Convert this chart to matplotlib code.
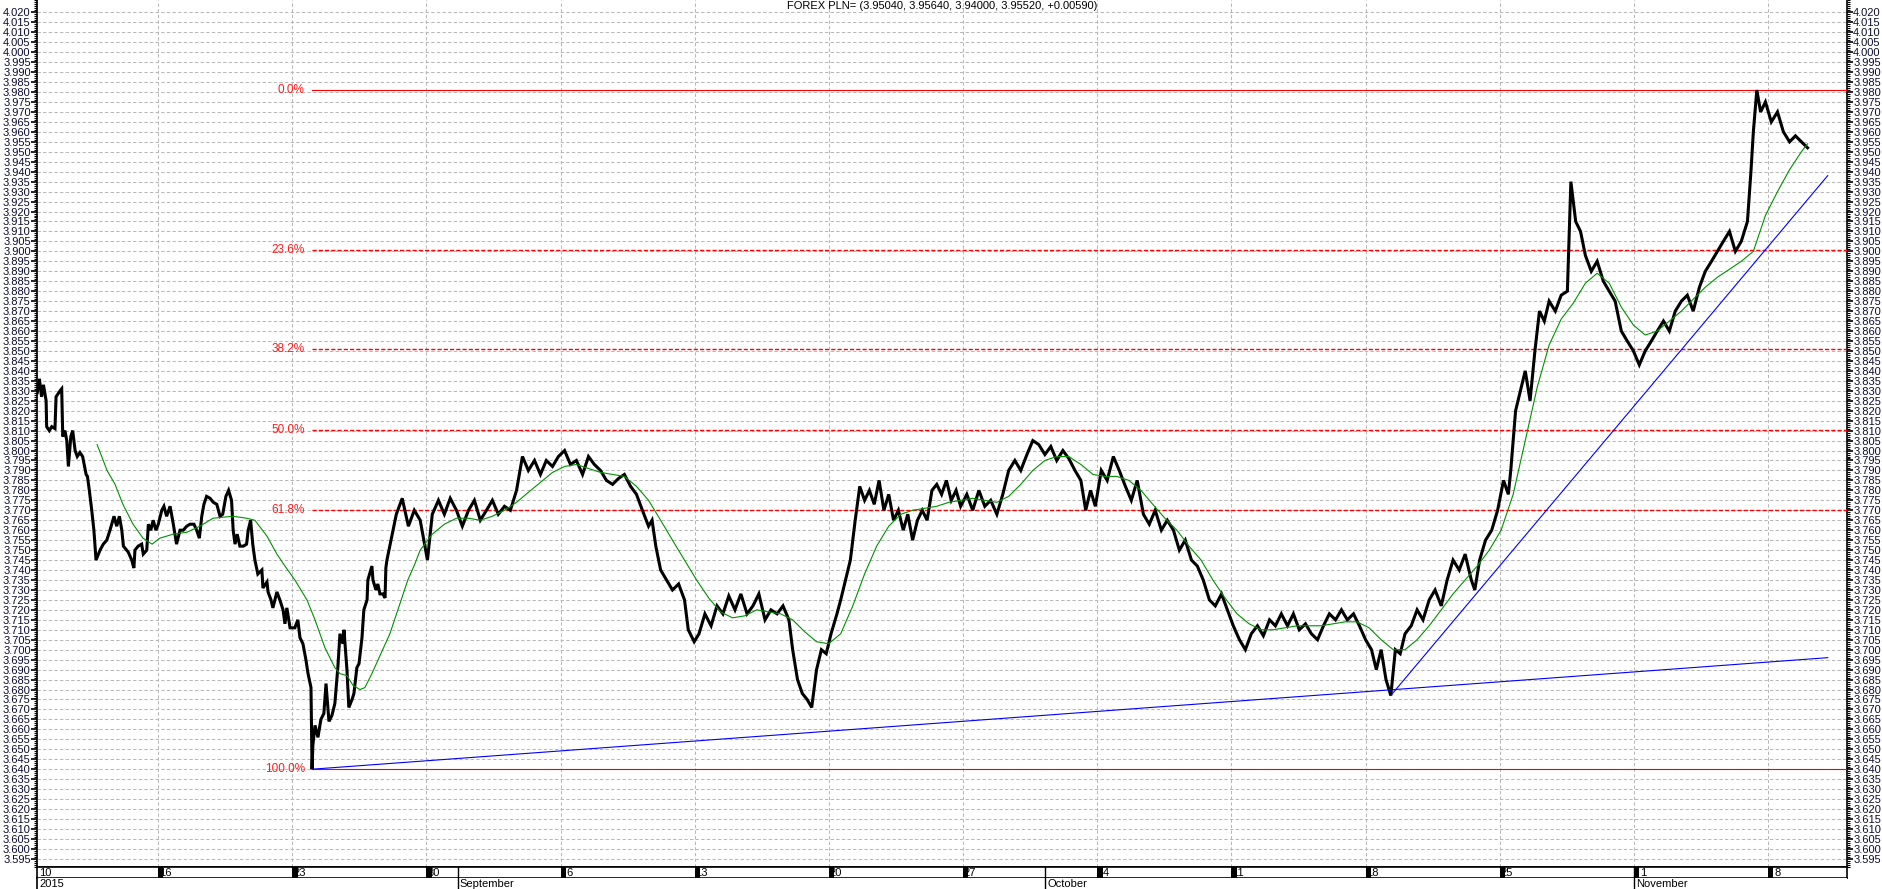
"""FOREX PLN= price chart with Fibonacci retracement, trend lines and a moving average."""

import matplotlib
matplotlib.use('Agg')
import matplotlib.pyplot as plt
import numpy as np
from matplotlib.ticker import FixedLocator, FormatStrFormatter

plt.rcParams['font.family'] = ['Liberation Sans', 'DejaVu Sans']

TITLE = 'FOREX PLN= (3.95040, 3.95640, 3.94000, 3.95520, +0.00590)'

# time axis: trading days from the left edge of the chart
X_MAX = 67.45
week_ticks = [4.51 + 5 * k for k in range(13)]
week_labels = ['16', '23', '30', '6', '13', '20', '27', '4', '11', '18', '25', '1', '8']
first_label = '10'
month_pos = [15.68, 37.56, 59.51]
month_labels = ['September', 'October', 'November']
year_label = '2015'

# close price (day, value)
px_day = [
    0.01, 0.09, 0.17, 0.24, 0.34, 0.36, 0.46, 0.55, 0.67, 0.71, 0.86, 0.92, 0.96, 1.04, 1.11,
    1.17, 1.26, 1.33, 1.42, 1.50, 1.60, 1.70, 1.83, 1.88, 1.95, 2.04, 2.12, 2.20, 2.35, 2.47,
    2.60, 2.72, 2.87, 2.97, 3.07, 3.16, 3.22, 3.40, 3.53, 3.61, 3.65, 3.77, 3.90, 3.96, 4.09,
    4.15, 4.24, 4.33, 4.43, 4.52, 4.65, 4.73, 4.83, 4.96, 5.08, 5.20, 5.33, 5.45, 5.58, 5.70,
    5.85, 5.95, 6.05, 6.14, 6.22, 6.32, 6.45, 6.57, 6.70, 6.82, 6.92, 7.04, 7.14, 7.25, 7.31,
    7.38, 7.46, 7.56, 7.69, 7.81, 7.87, 7.96, 8.04, 8.12,
    8.23, 8.38, 8.42, 8.57, 8.61, 8.72, 8.79, 8.94, 9.05, 9.17, 9.24, 9.31, 9.43, 9.61, 9.72,
    9.80, 9.91, 10.02, 10.10, 10.21, 10.25, 10.28, 10.36, 10.47, 10.58, 10.69, 10.77, 10.80,
    10.88, 10.99, 11.10, 11.21, 11.29, 11.40, 11.44, 11.55, 11.62, 11.74, 11.81, 11.92, 12.00,
    12.11, 12.18, 12.30, 12.33, 12.48, 12.52, 12.63, 12.70, 12.78, 12.89, 12.97, 13.00, 13.04,
    13.39, 13.61, 13.84, 14.06, 14.28, 14.55, 14.73, 14.96, 15.18, 15.40, 15.63, 15.85, 16.08,
    16.30, 16.52, 16.75, 16.97, 17.19, 17.42, 17.64, 17.87, 18.09, 18.31, 18.54, 18.76, 18.98,
    19.21, 19.43, 19.66, 19.88, 20.10, 20.33, 20.55, 20.77, 21.00, 21.22, 21.45, 21.67, 21.89,
    22.12, 22.34, 22.56, 22.79, 22.92, 23.06, 23.24, 23.46, 23.68, 23.91, 24.13, 24.27, 24.49,
    24.67, 24.89, 25.12, 25.34, 25.56, 25.78, 26.01, 26.23, 26.46, 26.68, 26.90, 27.13, 27.35,
    27.58, 27.80, 28.02, 28.16, 28.34, 28.52, 28.70, 28.87, 29.05, 29.23, 29.41, 29.59, 29.81,
    29.95, 30.13, 30.31, 30.49, 30.66, 30.84, 31.02, 31.20, 31.38, 31.56, 31.74, 31.92, 32.10,
    32.28, 32.45, 32.63, 32.81, 32.99, 33.17, 33.35, 33.53, 33.71, 33.89, 34.07, 34.25, 34.42,
    34.65, 34.87, 35.10, 35.32, 35.54, 35.77, 35.99, 36.21, 36.44, 36.66, 36.89, 37.11, 37.33,
    37.56, 37.78, 38.00, 38.23, 38.45, 38.68, 38.90, 39.08, 39.26, 39.44, 39.66, 39.88, 40.11,
    40.33, 40.56, 40.78, 41.00, 41.23, 41.45, 41.67, 41.90, 42.12, 42.35, 42.57, 42.79, 43.02,
    43.24, 43.46, 43.69, 43.91, 44.14, 44.36, 44.58, 44.81, 45.03, 45.25, 45.48, 45.70, 45.93,
    46.15, 46.37, 46.60, 46.82, 47.04, 47.27, 47.49, 47.72, 47.94, 48.16, 48.39, 48.61, 48.83,
    49.06, 49.28, 49.51, 49.73, 49.91, 50.09, 50.27, 50.45, 50.62, 50.80, 50.98, 51.21, 51.43,
    51.65, 51.88, 52.10, 52.33, 52.55, 52.77, 53.00, 53.22, 53.45, 53.58, 53.76, 53.98, 54.21,
    54.43, 54.65, 54.83, 54.92, 55.10, 55.28, 55.46, 55.64, 55.82, 55.99, 56.17, 56.35, 56.58,
    56.80, 57.03, 57.16, 57.34, 57.52, 57.70, 57.92, 58.14, 58.37, 58.59, 58.81, 59.04, 59.26,
    59.49, 59.71, 59.93, 60.16, 60.38, 60.61, 60.83, 61.05, 61.28, 61.50, 61.72, 61.95, 62.17,
    62.40, 62.62, 62.84, 63.07, 63.29, 63.51, 63.74, 63.87, 63.96, 64.09, 64.23, 64.41, 64.63,
    64.86, 65.08, 65.31, 65.53, 65.75, 65.98,
]
px_close = [
    3.829, 3.836, 3.827, 3.833, 3.825, 3.812, 3.810, 3.812, 3.811, 3.827, 3.830, 3.831, 3.807, 3.810, 3.805,
    3.792, 3.807, 3.810, 3.800, 3.797, 3.799, 3.797, 3.788, 3.787, 3.780, 3.770, 3.760, 3.745, 3.750, 3.753,
    3.755, 3.760, 3.767, 3.762, 3.767, 3.760, 3.752, 3.749, 3.745, 3.741, 3.750, 3.752, 3.753, 3.748, 3.750,
    3.763, 3.760, 3.765, 3.760, 3.763, 3.770, 3.772, 3.767, 3.772, 3.763, 3.753, 3.760, 3.760, 3.762, 3.763,
    3.763, 3.760, 3.756, 3.767, 3.773, 3.777, 3.776, 3.774, 3.773, 3.767, 3.768, 3.777, 3.780, 3.775, 3.760,
    3.753, 3.758, 3.752, 3.752, 3.753, 3.760, 3.765, 3.753, 3.745,
    3.738, 3.740, 3.731, 3.734, 3.729, 3.725, 3.721, 3.729, 3.725, 3.720, 3.713, 3.721, 3.711, 3.711, 3.715,
    3.706, 3.703, 3.695, 3.688, 3.681, 3.640, 3.652, 3.662, 3.656, 3.665, 3.668, 3.683, 3.678,
    3.664, 3.667, 3.673, 3.691, 3.708, 3.703, 3.710, 3.690, 3.671, 3.675, 3.678, 3.691, 3.693,
    3.706, 3.720, 3.725, 3.735, 3.742, 3.735, 3.730, 3.733, 3.728, 3.728, 3.726, 3.741, 3.745,
    3.768, 3.776, 3.762, 3.770, 3.765, 3.745, 3.768, 3.775, 3.768, 3.776, 3.770, 3.762, 3.770,
    3.775, 3.765, 3.770, 3.775, 3.768, 3.772, 3.770, 3.780, 3.797, 3.790, 3.795, 3.788, 3.795,
    3.792, 3.797, 3.800, 3.793, 3.795, 3.788, 3.797, 3.793, 3.790, 3.785, 3.783, 3.786, 3.788,
    3.782, 3.778, 3.770, 3.762, 3.765, 3.752, 3.740, 3.735, 3.730, 3.733, 3.725, 3.710, 3.704,
    3.708, 3.718, 3.712, 3.722, 3.718, 3.727, 3.720, 3.728, 3.718, 3.722, 3.728, 3.715, 3.720,
    3.718, 3.722, 3.715, 3.700, 3.685, 3.678, 3.675, 3.671, 3.690, 3.700, 3.698, 3.708, 3.718,
    3.725, 3.735, 3.745, 3.765, 3.782, 3.775, 3.780, 3.773, 3.785, 3.770, 3.778, 3.765, 3.770,
    3.760, 3.768, 3.755, 3.765, 3.770, 3.765, 3.780, 3.783, 3.778, 3.785, 3.775, 3.780, 3.772,
    3.778, 3.770, 3.780, 3.772, 3.775, 3.768, 3.778, 3.790, 3.795, 3.790, 3.798, 3.805, 3.803,
    3.798, 3.802, 3.795, 3.800, 3.796, 3.790, 3.785, 3.770, 3.780, 3.772, 3.790, 3.785, 3.797,
    3.790, 3.782, 3.775, 3.785, 3.768, 3.763, 3.770, 3.760, 3.765, 3.760, 3.750, 3.755, 3.745,
    3.742, 3.735, 3.725, 3.722, 3.728, 3.720, 3.712, 3.705, 3.700, 3.708, 3.712, 3.707, 3.715,
    3.712, 3.718, 3.712, 3.718, 3.710, 3.713, 3.708, 3.705, 3.712, 3.718, 3.715, 3.720, 3.715,
    3.718, 3.712, 3.705, 3.700, 3.690, 3.700, 3.685, 3.677, 3.700, 3.698, 3.708, 3.712, 3.720,
    3.715, 3.725, 3.730, 3.722, 3.735, 3.745, 3.740, 3.748, 3.735, 3.730, 3.745, 3.755, 3.760,
    3.770, 3.785, 3.778, 3.790, 3.820, 3.830, 3.840, 3.825, 3.850, 3.870, 3.865, 3.875, 3.870,
    3.878, 3.880, 3.935, 3.915, 3.910, 3.898, 3.890, 3.895, 3.885, 3.880, 3.875, 3.860, 3.855,
    3.850, 3.843, 3.850, 3.855, 3.860, 3.865, 3.860, 3.870, 3.875, 3.878, 3.870, 3.882, 3.890,
    3.895, 3.900, 3.905, 3.910, 3.900, 3.905, 3.915, 3.940, 3.960, 3.981, 3.970, 3.975, 3.965,
    3.970, 3.960, 3.955, 3.958, 3.955, 3.952,
]

# moving average (day, value)
ma_day = [
    2.24, 2.61, 2.91, 3.20, 3.58, 3.95, 4.29, 4.58, 5.07, 5.59, 6.07, 6.56, 7.30, 7.82, 8.12,
    8.57, 8.94, 9.24, 9.61, 10.06, 10.36, 10.73, 11.10, 11.29, 11.55, 11.78, 12.04, 12.22,
    12.48, 12.78, 13.15, 13.52, 13.82, 14.08, 14.28, 14.73, 15.18, 15.63, 16.08, 16.52, 16.97,
    17.42, 17.87, 18.31, 18.76, 19.21, 19.66, 20.10, 20.55, 21.00, 21.45, 21.89, 22.34, 22.79,
    23.24, 23.68, 24.13, 24.58, 25.03, 25.47, 25.92, 26.37, 26.82, 27.26, 27.71, 28.16, 28.61,
    29.05, 29.50, 29.95, 30.40, 30.84, 31.29, 31.74, 32.19, 32.63, 33.08, 33.53, 33.98, 34.42,
    34.87, 35.32, 35.77, 36.21, 36.66, 37.11, 37.56, 38.00, 38.45, 38.90, 39.35, 39.79, 40.24,
    40.69, 41.14, 41.58, 42.03, 42.48, 42.93, 43.38, 43.82, 44.27, 44.72, 45.17, 45.61, 46.06,
    46.51, 46.96, 47.40, 47.85, 48.30, 48.75, 49.19, 49.64, 50.09, 50.54, 50.98, 51.43, 51.88,
    52.33, 52.77, 53.22, 53.67, 54.12, 54.56, 55.01, 55.46, 55.91, 56.35, 56.80, 57.25, 57.70,
    58.14, 58.59, 59.04, 59.49, 59.93, 60.38, 60.83, 61.28, 61.72, 62.17, 62.62, 63.07, 63.51,
    63.96, 64.41, 64.86, 65.31, 65.75, 65.98,
]
ma_value = [
    3.803, 3.790, 3.783, 3.773, 3.763, 3.756, 3.753, 3.756, 3.758, 3.759, 3.762, 3.766, 3.767, 3.766, 3.765,
    3.757, 3.748, 3.742, 3.735, 3.725, 3.715, 3.701, 3.691, 3.688, 3.687, 3.682, 3.680, 3.681,
    3.688, 3.697, 3.708, 3.723, 3.735, 3.743, 3.750, 3.758, 3.763, 3.766, 3.766, 3.765, 3.767,
    3.770, 3.774, 3.779, 3.784, 3.789, 3.792, 3.793, 3.791, 3.789, 3.788, 3.787, 3.782, 3.775,
    3.765, 3.755, 3.745, 3.735, 3.726, 3.719, 3.716, 3.717, 3.720, 3.719, 3.718, 3.715, 3.709,
    3.704, 3.703, 3.708, 3.722, 3.738, 3.752, 3.762, 3.768, 3.770, 3.771, 3.772, 3.774, 3.775,
    3.776, 3.775, 3.774, 3.777, 3.783, 3.790, 3.795, 3.797, 3.797, 3.793, 3.788, 3.787, 3.787,
    3.785, 3.780, 3.773, 3.766, 3.760, 3.752, 3.745, 3.735, 3.726, 3.718, 3.713, 3.710, 3.710,
    3.711, 3.712, 3.712, 3.712, 3.713, 3.714, 3.714, 3.711, 3.705, 3.700, 3.700, 3.705, 3.712,
    3.720, 3.728, 3.735, 3.742, 3.750, 3.760, 3.778, 3.805, 3.832, 3.853, 3.866, 3.874, 3.884,
    3.889, 3.884, 3.872, 3.863, 3.858, 3.860, 3.865, 3.870, 3.876, 3.882, 3.887, 3.891, 3.895,
    3.900, 3.918, 3.930, 3.941, 3.950, 3.954,
]

# Fibonacci retracement between the September low and the November high
fib_low = 3.640
fib_high = 3.981
fib_start_day = 10.25
fib_levels = [0.0, 0.236, 0.382, 0.5, 0.618, 1.0]
fib_label_day = 9.98

# trend lines (day, value) pairs
trend_1_day = [10.25, 66.73]
trend_1_val = [3.640, 3.696]
trend_2_day = [50.45, 66.73]
trend_2_val = [3.677, 3.938]

Y_MIN, Y_MAX = 3.5909, 4.0262
y_major = np.round(np.arange(3.595, 4.0201, 0.005), 3)
y_minor = np.round(np.arange(3.591, 4.0261, 0.001), 3)

W, H = 1883, 889
fig = plt.figure(figsize=(W / 100, H / 100), dpi=100)
fig.patch.set_facecolor('white')

left, right = 37 / W, 1847 / W
ax = fig.add_axes([left, (H - 867) / H, right - left, 867 / H])
ax_day = fig.add_axes([left, (H - 878) / H, right - left, 11 / H])
ax_mon = fig.add_axes([left, 0, right - left, 11 / H])

grid_kw = dict(color='#b8b8b8', linewidth=0.75, dashes=(3.2, 2.2))

# price chart
ax.set_xlim(0, X_MAX)
ax.set_ylim(Y_MIN, Y_MAX)
for y in y_major:
    ax.axhline(y, zorder=0, **grid_kw)
for x in week_ticks:
    ax.axvline(x, zorder=0, **grid_kw)

ax.plot(px_day, px_close, color='black', linewidth=2.2, solid_joinstyle='miter', zorder=4)
ax.plot(ma_day, ma_value, color='#009100', linewidth=0.8, zorder=5)
ax.plot(trend_1_day, trend_1_val, color='#0000ff', linewidth=0.8, zorder=5)
ax.plot(trend_2_day, trend_2_val, color='#0000ff', linewidth=0.8, zorder=5)

for lvl in fib_levels:
    price = fib_high - lvl * (fib_high - fib_low)
    if lvl in (0.0, 1.0):
        ax.plot([fib_start_day, X_MAX], [price, price], color='#ff0000', linewidth=0.8, zorder=3)
    else:
        ax.plot([fib_start_day, X_MAX], [price, price], color='#ff0000', linewidth=1.0,
                dashes=(3, 1.5), zorder=3)
    ax.text(fib_label_day, price, f'{lvl * 100:.1f}%', color='#ff1a1a', fontsize=8.5,
            ha='right', va='center', zorder=6)

ax.yaxis.set_major_locator(FixedLocator(y_major))
ax.yaxis.set_minor_locator(FixedLocator(y_minor))
ax.yaxis.set_major_formatter(FormatStrFormatter('%.3f'))
ax.tick_params(axis='y', which='major', left=True, right=True, labelleft=True, labelright=True,
               length=4, width=1.2, direction='out', labelsize=8, labelcolor='#0c0c30', pad=0.5)
ax.tick_params(axis='y', which='minor', left=True, right=True, length=2.2, width=0.8,
               direction='out')
ax.set_xticks([])
for side in ('left', 'right', 'bottom'):
    ax.spines[side].set_linewidth(1.2)
ax.spines['top'].set_visible(False)

ax.text(0.5, 1 - 6 / 867, TITLE, transform=ax.transAxes, ha='center', va='center', fontsize=8,
        color='black', zorder=7)

# day strip: black period bars, the day number starts under the bar
BAR_W = 0.2
ax_day.set_xlim(0, X_MAX)
ax_day.set_ylim(0, 1)
ax_day.set_xticks([])
ax_day.set_yticks([])
for s in ax_day.spines.values():
    s.set_linewidth(1.2)
ax_day.text(0.08, 0.45, first_label, ha='left', va='center', fontsize=8)
ax_day.bar(week_ticks, 1, width=BAR_W, align='edge', color='black', zorder=3)
for x, lab in zip(week_ticks, week_labels):
    x_txt = x + 0.03 if len(lab) > 1 else x + BAR_W + 0.02
    ax_day.text(x_txt, 0.45, lab, ha='left', va='center', fontsize=8, zorder=2)
for x in month_pos:
    ax_day.axvline(x, color='black', linewidth=1.0)

# month strip
ax_mon.set_xlim(0, X_MAX)
ax_mon.set_ylim(0, 1)
ax_mon.set_xticks([])
ax_mon.set_yticks([])
for side in ('top', 'right', 'bottom'):
    ax_mon.spines[side].set_visible(False)
ax_mon.spines['left'].set_linewidth(1.2)
ax_mon.text(0.08, 0.45, year_label, ha='left', va='center', fontsize=8)
for x, lab in zip(month_pos, month_labels):
    ax_mon.axvline(x, color='black', linewidth=1.0)
    ax_mon.text(x + 0.08, 0.45, lab, ha='left', va='center', fontsize=8)

fig.savefig('out.png', dpi=100, facecolor='white')
